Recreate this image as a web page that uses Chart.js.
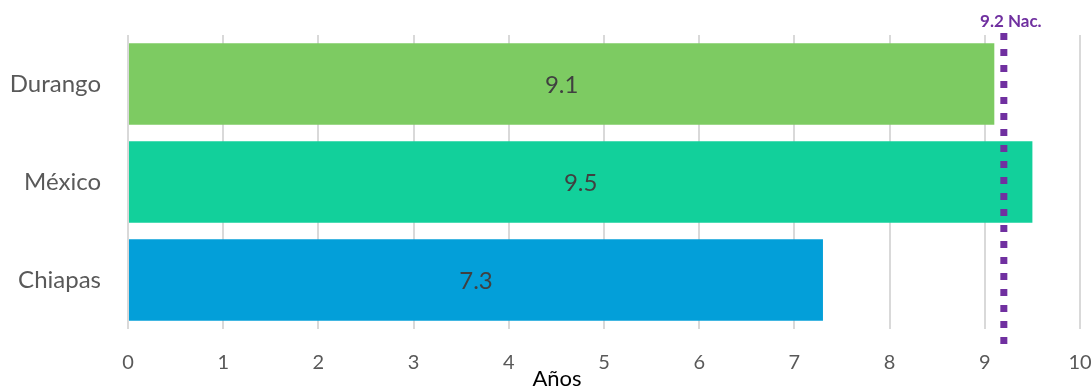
<!DOCTYPE html>
<html>
<head>
<meta charset="utf-8">
<script src="https://cdn.jsdelivr.net/npm/chart.js@4"></script>
<style>
html,body{margin:0;padding:0;background:#fff;}
#wrap{width:1091px;height:388px;position:relative;}
</style>
</head>
<body>
<div id="wrap"><canvas id="c"></canvas></div>
<script>
const categories = ["Durango", "México", "Chiapas"];
const values = [9.1, 9.5, 7.3];
const barColors = ["#7DCB62", "#12D09B", "#039FD9"];
const xTicks = [0, 1, 2, 3, 4, 5, 6, 7, 8, 9, 10];
const nationalValue = 9.2;
const nationalLabel = "9.2 Nac.";
const axisTitle = "Años";

const FONT = "Lato, 'Open Sans', 'DejaVu Sans', sans-serif";

const barLabels = {
  id: 'barLabels',
  afterDatasetsDraw(chart) {
    const ctx = chart.ctx;
    const meta = chart.getDatasetMeta(0);
    ctx.save();
    ctx.font = "24px " + FONT;
    ctx.fillStyle = "#404040";
    ctx.textAlign = "center";
    ctx.textBaseline = "middle";
    meta.data.forEach((bar, i) => {
      const cx = (bar.x + bar.base) / 2;
      ctx.fillText(values[i].toFixed(1), cx, bar.y + 1);
    });
    ctx.restore();
  }
};

const nationalLine = {
  id: 'nationalLine',
  afterDatasetsDraw(chart) {
    const ctx = chart.ctx;
    const x = chart.scales.x.getPixelForValue(nationalValue);
    const area = chart.chartArea;
    ctx.save();
    ctx.strokeStyle = "#7030A0";
    ctx.lineWidth = 7;
    ctx.setLineDash([7, 9]);
    ctx.lineCap = "butt";
    ctx.beginPath();
    ctx.moveTo(x, area.top - 2);
    ctx.lineTo(x, area.bottom + 16);
    ctx.stroke();
    ctx.setLineDash([]);
    ctx.font = "bold 17px " + FONT;
    ctx.fillStyle = "#7030A0";
    ctx.textAlign = "center";
    ctx.textBaseline = "middle";
    ctx.fillText(nationalLabel, x + 7, area.top - 13);
    ctx.restore();
  }
};

const xTitle = {
  id: 'xTitle',
  afterDraw(chart) {
    const ctx = chart.ctx;
    ctx.save();
    ctx.font = "22px " + FONT;
    ctx.fillStyle = "#000000";
    ctx.textAlign = "center";
    ctx.textBaseline = "alphabetic";
    ctx.fillText(axisTitle, 557, 386);
    ctx.restore();
  }
};

new Chart(document.getElementById('c'), {
  type: 'bar',
  data: {
    labels: categories,
    datasets: [{
      data: values,
      backgroundColor: barColors,
      borderWidth: 0,
      barPercentage: 0.83,
      categoryPercentage: 1.0
    }]
  },
  options: {
    indexAxis: 'y',
    responsive: true,
    maintainAspectRatio: false,
    animation: false,
    events: [],
    layout: { padding: { top: 35, right: 0, bottom: 0, left: 0 } },
    plugins: { legend: { display: false }, tooltip: { enabled: false } },
    scales: {
      x: {
        min: 0, max: 10,
        afterBuildTicks(scale) { scale.ticks = xTicks.map(v => ({ value: v })); },
        grid: { color: "#D9D9D9", lineWidth: 2, drawTicks: false },
        border: { display: false },
        ticks: { font: { family: FONT, size: 20 }, color: "#595959", padding: 22 },
        title: { display: false },
        afterFit(scale) { scale.height = 59; scale.paddingLeft = 0; scale.paddingRight = 11; }
      },
      y: {
        grid: { display: false, drawTicks: false },
        border: { display: false },
        ticks: { font: { family: FONT, size: 24 }, color: "#595959", padding: 27 },
        afterFit(scale) { scale.width = 128; scale.paddingTop = 0; scale.paddingBottom = 0; }
      }
    }
  },
  plugins: [barLabels, nationalLine, xTitle]
});
</script>
</body>
</html>
